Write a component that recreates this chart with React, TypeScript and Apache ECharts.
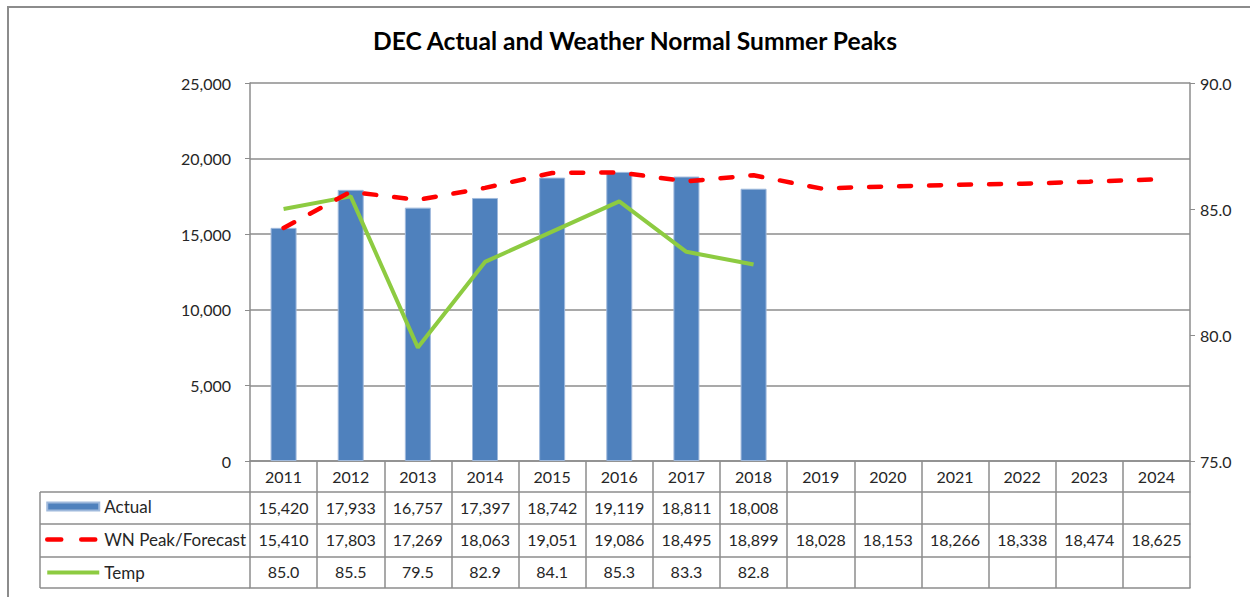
import React, { useEffect, useRef } from "react";
import * as echarts from "echarts";

const years = ["2011", "2012", "2013", "2014", "2015", "2016", "2017", "2018", "2019", "2020", "2021", "2022", "2023", "2024"];
const actual: (number | null)[] = [15420, 17933, 16757, 17397, 18742, 19119, 18811, 18008, null, null, null, null, null, null];
const wnPeak: number[] = [15410, 17803, 17269, 18063, 19051, 19086, 18495, 18899, 18028, 18153, 18266, 18338, 18474, 18625];
const temp: (number | null)[] = [85.0, 85.5, 79.5, 82.9, 84.1, 85.3, 83.3, 82.8, null, null, null, null, null, null];
const seriesNames = ["Actual", "WN Peak/Forecast", "Temp"];
const leftAxis = { min: 0, max: 25000, interval: 5000 };
const rightAxis = { min: 75, max: 90, interval: 5 };

const FONT = "Lato";
const GRAY = "#8c8c8c";
const TXT = "#262626";
const RED = "#FF0000";
const GREEN = "#8DCB41";
const BLUE = "#4F81BD";

const fmtInt = (v: number | null) => (v == null ? "" : v.toLocaleString("en-US"));
const fmt1 = (v: number | null) => (v == null ? "" : v.toFixed(1));

export default function App() {
  const ref = useRef<HTMLDivElement>(null);
  useEffect(() => {
    if (!ref.current) return;
    const chart = echarts.init(ref.current, null, { renderer: "svg" });
    const tableAxis = (data: string[], offset: number, tickLen: number, margin: number, showLabel = true, showTick = true) => ({
      type: "category",
      gridIndex: 0,
      position: "bottom",
      offset,
      data,
      boundaryGap: true,
      axisLine: { show: true, lineStyle: { color: GRAY, width: 1.5 } },
      axisTick: { show: showTick, interval: 0, length: tickLen, lineStyle: { color: GRAY, width: 1.5 } },
      axisLabel: { show: showLabel, interval: 0, margin, fontFamily: FONT, fontSize: 16, color: TXT },
      splitLine: { show: false },
    });
    const legendLines = [492, 524, 557, 588].map((y) => ({
      type: "line",
      shape: { x1: 40, y1: y, x2: 250, y2: y },
      style: { stroke: GRAY, lineWidth: 1.5 },
    }));
    chart.setOption({
      animation: false,
      title: {
        text: "DEC Actual and Weather Normal Summer Peaks",
        left: 630,
        textAlign: "center",
        top: 23,
        textStyle: { fontFamily: FONT, fontSize: 24.6, fontWeight: "bold", color: "#000" },
      },
      grid: { left: 250, right: 60, top: 83, bottom: 136, containLabel: false },
      legend: {
        orient: "vertical",
        left: 45,
        top: 498,
        padding: 0,
        itemWidth: 52,
        itemHeight: 8,
        itemGap: 16,
        textStyle: { fontFamily: FONT, fontSize: 17, color: TXT, lineHeight: 16 },
        data: [
          { name: seriesNames[0], icon: "rect" },
          { name: seriesNames[1], itemStyle: { opacity: 0 }, lineStyle: { width: 4.5, color: RED, type: [14, 20], cap: "round" } },
          { name: seriesNames[2], itemStyle: { opacity: 0 }, lineStyle: { width: 4, color: GREEN } },
        ],
      },
      xAxis: [
        tableAxis(years, 0, 31, 7),
        tableAxis(actual.map(fmtInt), 31, 32, 7),
        tableAxis(wnPeak.map(fmtInt), 63, 33, 7),
        tableAxis(temp.map(fmt1), 96, 31, 6),
        tableAxis(years, 127, 0, 0, false, false),
      ],
      yAxis: [
        {
          type: "value",
          ...leftAxis,
          position: "left",
          axisLine: { show: true, lineStyle: { color: GRAY, width: 1.5 } },
          axisTick: { show: true, length: 5, lineStyle: { color: GRAY } },
          axisLabel: {
            fontFamily: FONT,
            fontSize: 16,
            color: TXT,
            margin: 19,
            formatter: (v: number) => v.toLocaleString("en-US"),
          },
          splitLine: { show: true, lineStyle: { color: GRAY, width: 1.5 } },
        },
        {
          type: "value",
          ...rightAxis,
          position: "right",
          axisLine: { show: true, lineStyle: { color: GRAY, width: 1.5 } },
          axisTick: { show: true, length: 5, lineStyle: { color: GRAY } },
          axisLabel: {
            fontFamily: FONT,
            fontSize: 16,
            color: TXT,
            margin: 10,
            formatter: (v: number) => v.toFixed(1),
          },
          splitLine: { show: false },
        },
      ],
      series: [
        {
          name: seriesNames[0],
          type: "bar",
          xAxisIndex: 0,
          yAxisIndex: 0,
          data: actual,
          barWidth: 26,
          itemStyle: { color: BLUE, borderColor: "#9fb9dc", borderWidth: 1 },
          z: 2,
        },
        {
          name: seriesNames[1],
          type: "line",
          xAxisIndex: 0,
          yAxisIndex: 0,
          data: wnPeak,
          symbol: "none",
          lineStyle: { color: RED, width: 4.5, type: [12, 18], cap: "round" },
          itemStyle: { color: RED },
          z: 4,
        },
        {
          name: seriesNames[2],
          type: "line",
          xAxisIndex: 0,
          yAxisIndex: 1,
          data: temp,
          symbol: "none",
          lineStyle: { color: GREEN, width: 4 },
          itemStyle: { color: GREEN },
          z: 3,
        },
      ],
      graphic: [
        {
          type: "rect",
          shape: { x: 8, y: 7, width: 1400, height: 800 },
          style: { fill: "none", stroke: GRAY, lineWidth: 2 },
          silent: true,
        },
        ...legendLines,
        {
          type: "line",
          shape: { x1: 40, y1: 492, x2: 40, y2: 588 },
          style: { stroke: GRAY, lineWidth: 1.5 },
        },
      ],
    });
    return () => chart.dispose();
  }, []);
  return (
    <div
      ref={ref}
      style={{ position: "absolute", left: 0, top: 0, width: 1250, height: 597, background: "#fff" }}
    />
  );
}
